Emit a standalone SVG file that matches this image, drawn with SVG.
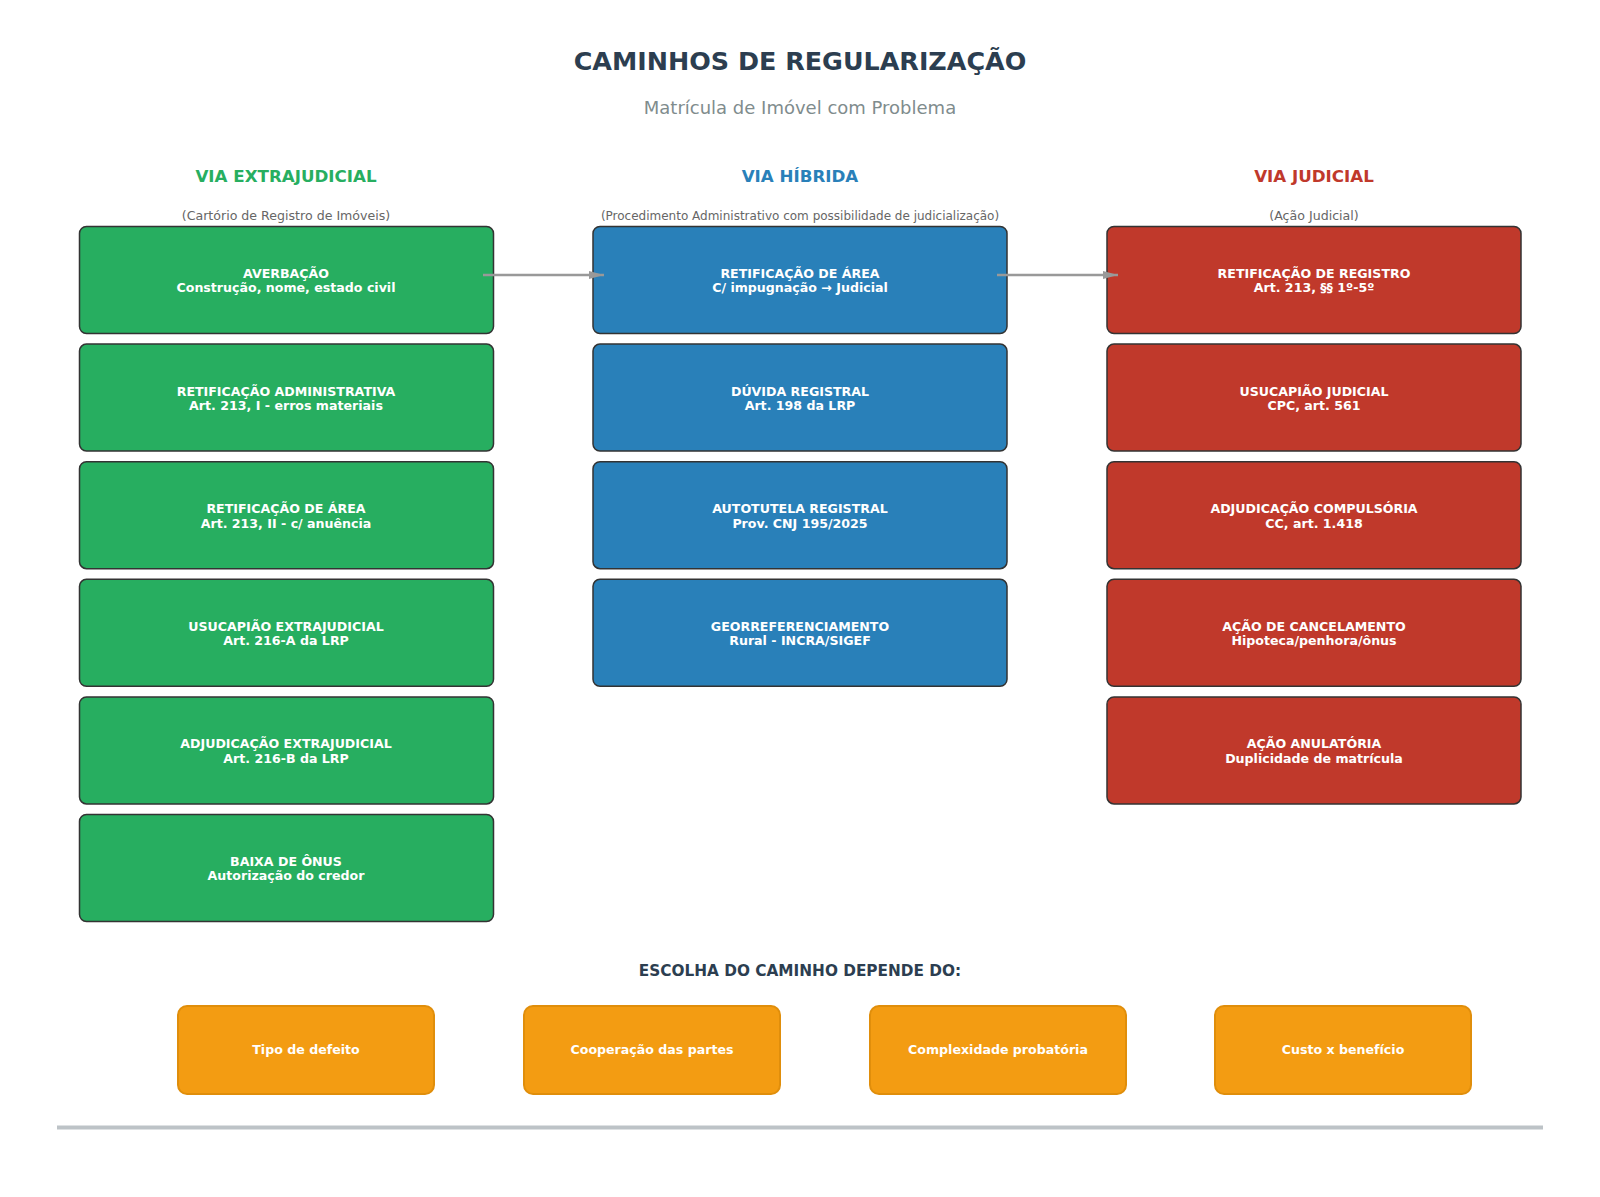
<svg xmlns="http://www.w3.org/2000/svg" width="1600" height="1197" viewBox="0 0 1600 1197">
<defs>
<marker id="ah" markerWidth="16" markerHeight="10" refX="15" refY="5" orient="auto" markerUnits="userSpaceOnUse">
<path d="M0,1 L15,5 L0,9 Z" fill="#999999"/>
</marker>
<style>
text{font-family:"DejaVu Sans","Liberation Sans",sans-serif;text-anchor:middle}
.title{font-size:25.4px;font-weight:bold;fill:#2c3e50}
.sub{font-size:18px;fill:#7f8c8d}
.colh{font-size:16.7px;font-weight:bold}
.colsub{font-size:12.6px;fill:#666666}
.box{stroke:#333333;stroke-width:1.5}
.g{fill:#27ae60}.b{fill:#2980b9}.r{fill:#c0392b}
.o{fill:#f39c12;stroke:#e08e0b;stroke-width:2}
.bt{font-size:12.6px;font-weight:bold;fill:#ffffff}
.conn{stroke:#999999;stroke-width:2.5;fill:none}
</style>
</defs>
<rect width="1600" height="1197" fill="#ffffff"/>
<text class="title" x="800" y="69.5">CAMINHOS DE REGULARIZAÇÃO</text>
<text class="sub" x="800" y="113.5">Matrícula de Imóvel com Problema</text>

<text class="colh" x="286" y="182" fill="#27ae60">VIA EXTRAJUDICIAL</text>
<text class="colsub" x="286" y="220">(Cartório de Registro de Imóveis)</text>
<text class="colh" x="800" y="182" fill="#2980b9">VIA HÍBRIDA</text>
<text class="colsub" x="800" y="220" style="font-size:12px">(Procedimento Administrativo com possibilidade de judicialização)</text>
<text class="colh" x="1314" y="182" fill="#c0392b">VIA JUDICIAL</text>
<text class="colsub" x="1314" y="220">(Ação Judicial)</text>

<g id="e1"><rect class="box g" x="79.5" y="226.5" width="414" height="107" rx="7"/><text class="bt" x="286" y="278">AVERBAÇÃO</text><text class="bt" x="286" y="292.3">Construção, nome, estado civil</text></g>
<g id="e2"><rect class="box g" x="79.5" y="344.1" width="414" height="107" rx="7"/><text class="bt" x="286" y="395.6">RETIFICAÇÃO ADMINISTRATIVA</text><text class="bt" x="286" y="409.9">Art. 213, I - erros materiais</text></g>
<g id="e3"><rect class="box g" x="79.5" y="461.7" width="414" height="107" rx="7"/><text class="bt" x="286" y="513.2">RETIFICAÇÃO DE ÁREA</text><text class="bt" x="286" y="527.5">Art. 213, II - c/ anuência</text></g>
<g id="e4"><rect class="box g" x="79.5" y="579.3" width="414" height="107" rx="7"/><text class="bt" x="286" y="630.8">USUCAPIÃO EXTRAJUDICIAL</text><text class="bt" x="286" y="645.1">Art. 216-A da LRP</text></g>
<g id="e5"><rect class="box g" x="79.5" y="696.9" width="414" height="107" rx="7"/><text class="bt" x="286" y="748.4">ADJUDICAÇÃO EXTRAJUDICIAL</text><text class="bt" x="286" y="762.7">Art. 216-B da LRP</text></g>
<g id="e6"><rect class="box g" x="79.5" y="814.5" width="414" height="107" rx="7"/><text class="bt" x="286" y="866">BAIXA DE ÔNUS</text><text class="bt" x="286" y="880.3">Autorização do credor</text></g>

<g id="h1"><rect class="box b" x="593" y="226.5" width="414" height="107" rx="7"/><text class="bt" x="800" y="278">RETIFICAÇÃO DE ÁREA</text><text class="bt" x="800" y="292.3">C/ impugnação → Judicial</text></g>
<g id="h2"><rect class="box b" x="593" y="344.1" width="414" height="107" rx="7"/><text class="bt" x="800" y="395.6">DÚVIDA REGISTRAL</text><text class="bt" x="800" y="409.9">Art. 198 da LRP</text></g>
<g id="h3"><rect class="box b" x="593" y="461.7" width="414" height="107" rx="7"/><text class="bt" x="800" y="513.2">AUTOTUTELA REGISTRAL</text><text class="bt" x="800" y="527.5">Prov. CNJ 195/2025</text></g>
<g id="h4"><rect class="box b" x="593" y="579.3" width="414" height="107" rx="7"/><text class="bt" x="800" y="630.8">GEORREFERENCIAMENTO</text><text class="bt" x="800" y="645.1">Rural - INCRA/SIGEF</text></g>

<g id="j1"><rect class="box r" x="1107" y="226.5" width="414" height="107" rx="7"/><text class="bt" x="1314" y="278">RETIFICAÇÃO DE REGISTRO</text><text class="bt" x="1314" y="292.3">Art. 213, §§ 1º-5º</text></g>
<g id="j2"><rect class="box r" x="1107" y="344.1" width="414" height="107" rx="7"/><text class="bt" x="1314" y="395.6">USUCAPIÃO JUDICIAL</text><text class="bt" x="1314" y="409.9">CPC, art. 561</text></g>
<g id="j3"><rect class="box r" x="1107" y="461.7" width="414" height="107" rx="7"/><text class="bt" x="1314" y="513.2">ADJUDICAÇÃO COMPULSÓRIA</text><text class="bt" x="1314" y="527.5">CC, art. 1.418</text></g>
<g id="j4"><rect class="box r" x="1107" y="579.3" width="414" height="107" rx="7"/><text class="bt" x="1314" y="630.8">AÇÃO DE CANCELAMENTO</text><text class="bt" x="1314" y="645.1">Hipoteca/penhora/ônus</text></g>
<g id="j5"><rect class="box r" x="1107" y="696.9" width="414" height="107" rx="7"/><text class="bt" x="1314" y="748.4">AÇÃO ANULATÓRIA</text><text class="bt" x="1314" y="762.7">Duplicidade de matrícula</text></g>

<g id="connectors">
<line class="conn" x1="483" y1="275" x2="604" y2="275" marker-end="url(#ah)"/>
<line class="conn" x1="997" y1="275" x2="1118" y2="275" marker-end="url(#ah)"/>
</g>

<text x="800" y="976" style="font-size:15.3px;font-weight:bold;fill:#2c3e50">ESCOLHA DO CAMINHO DEPENDE DO:</text>
<g id="f1"><rect class="o" x="178" y="1006" width="256" height="88" rx="9"/><text class="bt" x="306" y="1054">Tipo de defeito</text></g>
<g id="f2"><rect class="o" x="524" y="1006" width="256" height="88" rx="9"/><text class="bt" x="652" y="1054">Cooperação das partes</text></g>
<g id="f3"><rect class="o" x="870" y="1006" width="256" height="88" rx="9"/><text class="bt" x="998" y="1054">Complexidade probatória</text></g>
<g id="f4"><rect class="o" x="1215" y="1006" width="256" height="88" rx="9"/><text class="bt" x="1343" y="1054">Custo x benefício</text></g>

<line x1="57" y1="1127.5" x2="1543" y2="1127.5" stroke="#bdc3c7" stroke-width="4"/>
</svg>
